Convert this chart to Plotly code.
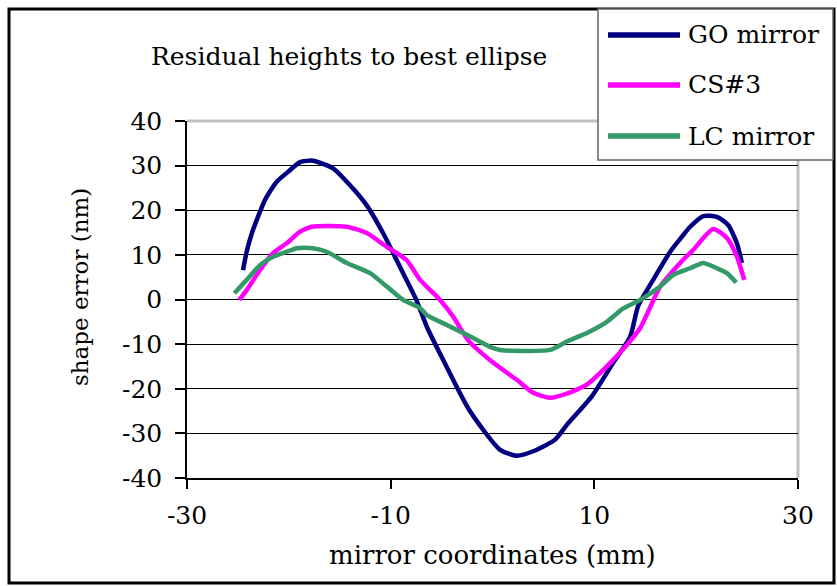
import plotly.graph_objects as go

# Residual shape error of three mirrors relative to their best-fit ellipse
go_x = [-24.50, -24.14, -23.64, -22.34, -21.19, -20.08, -18.90, -17.62, -15.66, -13.99,
        -12.35, -10.75, -8.78, -7.50, -6.45, -4.85, -2.30, 0.75, 2.39, 3.99,
        6.15, 7.30, 9.75, 11.85, 13.52, 14.30, 15.78, 17.45, 18.72, 19.41,
        20.69, 22.03, 23.14, 24.00, 24.49]
go_y = [6.6, 10.7, 14.8, 22.3, 26.4, 28.6, 30.8, 31.1, 29.4, 25.6,
        21.1, 14.9, 5.9, 0.0, -6.1, -13.5, -24.7, -33.7, -35.0, -34.0,
        -31.4, -28.1, -21.7, -14.2, -8.3, -1.5, 4.4, 10.7, 14.4, 16.3,
        18.7, 18.5, 16.7, 12.6, 8.2]

cs3_x = [-24.86, -24.14, -22.83, -21.55, -20.21, -18.90, -17.75, -14.31, -12.35, -10.38,
         -8.42, -7.11, -5.15, -3.87, -2.40, 0.09, 2.39, 3.99, 5.66, 7.30,
         9.26, 11.23, 13.19, 14.50, 15.81, 16.46, 18.43, 19.70, 21.67, 23.02,
         24.00, 24.72]
cs3_y = [-0.1, 2.1, 6.6, 10.4, 12.6, 15.2, 16.3, 16.3, 14.9, 11.8,
         8.8, 4.4, -0.1, -3.8, -9.1, -14.2, -18.0, -20.9, -22.0, -21.1,
         -19.1, -15.0, -10.2, -6.4, -0.1, 2.9, 8.2, 11.1, 15.8, 13.8,
         9.6, 4.4]

lc_x = [-25.35, -24.14, -22.83, -21.55, -20.21, -19.22, -17.62, -16.28, -14.31, -12.02,
        -10.38, -8.78, -7.11, -6.45, -4.49, -2.52, -0.24, 0.75, 5.66, 7.30,
        9.26, 11.23, 12.83, 14.50, 16.46, 17.74, 19.41, 20.69, 22.03, 23.02,
        23.93]
lc_y = [1.4, 4.4, 7.7, 9.6, 10.7, 11.5, 11.5, 10.7, 8.2, 5.9,
        2.9, -0.1, -1.9, -3.5, -5.7, -7.9, -10.6, -11.3, -11.3, -9.4,
        -7.5, -5.0, -2.0, -0.1, 2.9, 5.5, 7.0, 8.2, 7.0, 5.9,
        3.8]

series_names = ["GO mirror", "CS#3", "LC mirror"]
series_colors = ["#000080", "#FF00FF", "#339966"]

x_ticks = [-30, -10, 10, 30]
x_tick_labels = ["-30", "-10", "10", "30"]
y_ticks = [-40, -30, -20, -10, 0, 10, 20, 30, 40]
y_tick_labels = ["-40", "-30", "-20", "-10", "0", "10", "20", "30", "40"]
y_grid = [-30, -20, -10, 0, 10, 20, 30]

FONT = "DejaVu Serif"
W, H = 837, 586
L, R, T, B = 187, 798, 121, 478  # plot-area edges in pixels


def px(xp):
    return (xp - L) / (R - L)


def py(yp):
    return (B - yp) / (B - T)


fig = go.Figure()
for xs, ys, name, color in zip([go_x, cs3_x, lc_x], [go_y, cs3_y, lc_y],
                               series_names, series_colors):
    fig.add_trace(go.Scatter(x=xs, y=ys, mode="lines", name=name,
                             line=dict(color=color, width=4.5, shape="spline",
                                       smoothing=0.6),
                             showlegend=False))

shapes = [
    # outer frame
    dict(type="rect", xref="paper", yref="paper", x0=px(9), x1=px(834), y0=py(9), y1=py(583),
         line=dict(color="black", width=3), layer="below"),
    # light grey top and right border of the plot area
    dict(type="line", xref="paper", yref="paper", x0=0, x1=1, y0=1, y1=1,
         line=dict(color="#c0c0c0", width=3), layer="below"),
    dict(type="line", xref="paper", yref="paper", x0=1, x1=1, y0=0, y1=1,
         line=dict(color="#c0c0c0", width=3), layer="below"),
    # legend box
    dict(type="rect", xref="paper", yref="paper", x0=px(598), x1=px(833), y0=py(160), y1=py(9),
         line=dict(color="#666666", width=1.5), fillcolor="white", layer="above"),
]
annotations = [
    dict(text="Residual heights to best ellipse", x=px(349), y=py(57), xref="paper", yref="paper",
         showarrow=False, xanchor="center", yanchor="middle", font=dict(size=25, color="black", family=FONT)),
    dict(text="mirror coordinates (mm)", x=px(492), y=py(555), xref="paper", yref="paper",
         showarrow=False, xanchor="center", yanchor="middle", font=dict(size=26, color="black", family=FONT)),
    dict(text="shape error (nm)", x=px(80), y=py(287), xref="paper", yref="paper", textangle=-90,
         showarrow=False, xanchor="center", yanchor="middle", font=dict(size=23, color="black", family=FONT)),
]
legend_rows = [35, 85, 136]
for name, color, yrow in zip(series_names, series_colors, legend_rows):
    shapes.append(dict(type="line", xref="paper", yref="paper", x0=px(608), x1=px(680),
                       y0=py(yrow), y1=py(yrow), line=dict(color=color, width=5.5), layer="above"))
    annotations.append(dict(text=name, x=px(686), y=py(yrow), xref="paper", yref="paper",
                            showarrow=False, xanchor="left", yanchor="middle",
                            font=dict(size=25, color="black", family=FONT)))

fig.update_layout(
    width=W, height=H,
    margin=dict(l=L, r=W - R, t=T, b=H - B, pad=0),
    paper_bgcolor="white", plot_bgcolor="white",
    font=dict(family=FONT, size=25, color="black"),
    shapes=shapes, annotations=annotations,
    showlegend=False,
)
fig.update_xaxes(range=[-30, 30], tickvals=x_ticks, ticktext=x_tick_labels, ticks="outside",
                 ticklen=9, tickwidth=1.5, tickcolor="black", showline=True, linecolor="black",
                 linewidth=1.5, showgrid=False, zeroline=False, ticklabelstandoff=5,
                 tickfont=dict(size=25, family=FONT))
fig.update_yaxes(range=[-40, 40], tickvals=y_ticks, ticktext=y_tick_labels, ticks="outside",
                 ticklen=10, tickwidth=1.5, tickcolor="black", showline=True, linecolor="black",
                 linewidth=1.5, showgrid=False, zeroline=False, ticklabelstandoff=8,
                 tickfont=dict(size=25, family=FONT),
                 minor=dict(tickvals=y_grid, showgrid=True, gridcolor="#000000", gridwidth=1))

fig.write_html("out.html")
